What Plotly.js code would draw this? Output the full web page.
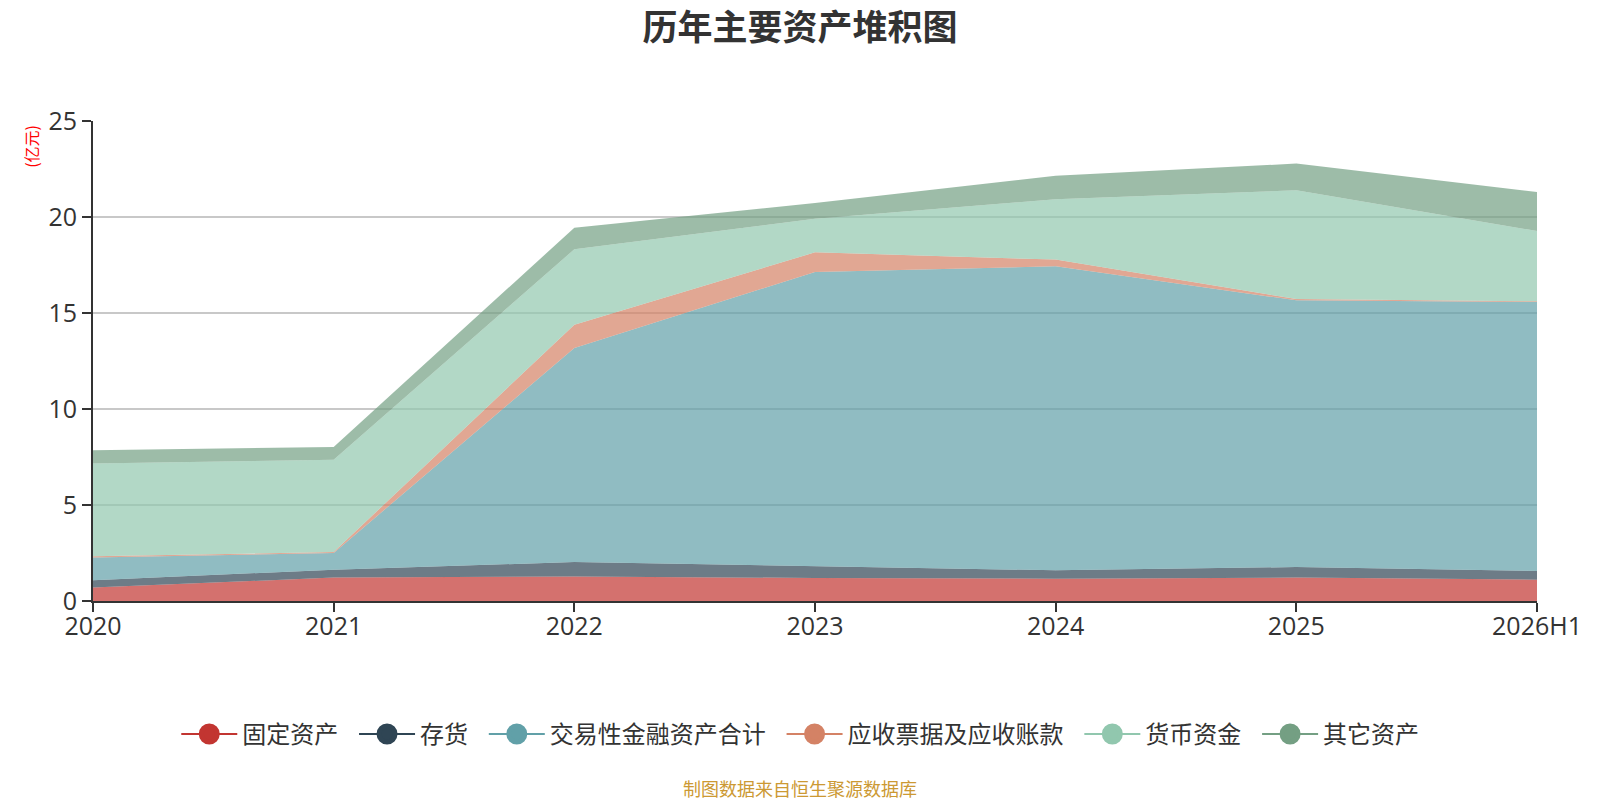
<!DOCTYPE html>
<html>
<head>
<meta charset="utf-8">
<script src="https://cdn.plot.ly/plotly-3.0.1.min.js"></script>
<style>html,body{margin:0;padding:0;background:#fff;}#chart{width:1600px;height:800px;}</style>
</head>
<body>
<div id="chart"></div>
<script>
const years = ["2020", "2021", "2022", "2023", "2024", "2025", "2026H1"];
const fixedAssets = [0.70, 1.22, 1.28, 1.20, 1.16, 1.22, 1.11];
const inventory = [0.38, 0.41, 0.75, 0.61, 0.44, 0.55, 0.45];
const tradingFinAssets = [1.18, 0.87, 11.15, 15.33, 15.83, 13.89, 14.01];
const receivables = [0.07, 0.05, 1.21, 1.02, 0.35, 0.07, 0.04];
const cash = [4.83, 4.81, 3.93, 1.75, 3.14, 5.66, 3.66];
const otherAssets = [0.69, 0.66, 1.12, 0.82, 1.23, 1.39, 2.03];

const seriesNames = ["固定资产", "存货", "交易性金融资产合计", "应收票据及应收账款", "货币资金", "其它资产"];
const seriesData = [fixedAssets, inventory, tradingFinAssets, receivables, cash, otherAssets];
const colors = ["#c23531", "#2f4554", "#61a0a8", "#d48265", "#91c7ae", "#749f83"];
const fills = ["rgba(194,53,49,0.7)", "rgba(47,69,84,0.7)", "rgba(97,160,168,0.7)", "rgba(212,130,101,0.7)", "rgba(145,199,174,0.7)", "rgba(116,159,131,0.7)"];

const traces = [];
seriesData.forEach((d, i) => {
  traces.push({
    type: "scatter", mode: "lines", x: years, y: d, name: seriesNames[i],
    stackgroup: "assets", fillcolor: fills[i], line: {width: 0, color: colors[i]},
    showlegend: false, hoverinfo: "x+y+name"
  });
});
seriesNames.forEach((n, i) => {
  traces.push({
    type: "scatter", mode: "lines+markers", x: [null], y: [null],
    name: n + (i < seriesNames.length - 1 ? "&nbsp;&nbsp;" : ""),
    line: {color: colors[i], width: 2},
    marker: {color: colors[i], size: 16, line: {color: colors[i], width: 5}},
    showlegend: true, hoverinfo: "skip"
  });
});

const layout = {
  width: 1600, height: 800,
  paper_bgcolor: "#fff", plot_bgcolor: "#fff",
  margin: {l: 93, r: 63, t: 121, b: 199},
  font: {family: "'Open Sans', 'Noto Sans CJK SC', sans-serif", color: "#333"},
  title: {text: "<b>历年主要资产堆积图</b>", x: 0.5, xanchor: "center", y: 0.9655, yanchor: "middle",
          font: {size: 35, color: "#333", family: "'Noto Sans CJK SC', sans-serif"}},
  xaxis: {
    type: "category", range: [0, 6], showgrid: false, zeroline: false,
    showline: true, linecolor: "#333", linewidth: 2,
    ticks: "outside", ticklen: 9, tickwidth: 2, tickcolor: "#333",
    tickfont: {size: 25, color: "#333"}, ticklabelstandoff: -7, fixedrange: true
  },
  yaxis: {
    range: [0, 25], dtick: 5, showgrid: true, gridcolor: "#c8c8c8", gridwidth: 1.5,
    zeroline: false, showline: true, linecolor: "#333", linewidth: 2,
    ticks: "outside", ticklen: 9, tickwidth: 2, tickcolor: "#333",
    tickfont: {size: 25, color: "#333"}, fixedrange: true
  },
  legend: {
    orientation: "h", x: 0.4898, xanchor: "center", y: -0.278, yanchor: "middle",
    font: {size: 24, color: "#333", family: "'Noto Sans CJK SC', sans-serif"},
    itemwidth: 56, traceorder: "normal", tracegroupgap: 0
  },
  annotations: [
    {text: "(亿元)", xref: "paper", yref: "paper", x: -0.043, y: 0.948, xanchor: "center", yanchor: "middle",
     textangle: -90, showarrow: false, font: {size: 16, color: "#ff0000", family: "'Noto Sans CJK SC', sans-serif"}},
    {text: "制图数据来自恒生聚源数据库", xref: "paper", yref: "paper", x: 0.4898, y: -0.39, xanchor: "center", yanchor: "middle",
     showarrow: false, font: {size: 18, color: "#cc9933", family: "'Noto Sans CJK SC', sans-serif"}}
  ],
  showlegend: true
};

Plotly.newPlot("chart", traces, layout, {displayModeBar: false, staticPlot: true});
</script>
</body>
</html>
